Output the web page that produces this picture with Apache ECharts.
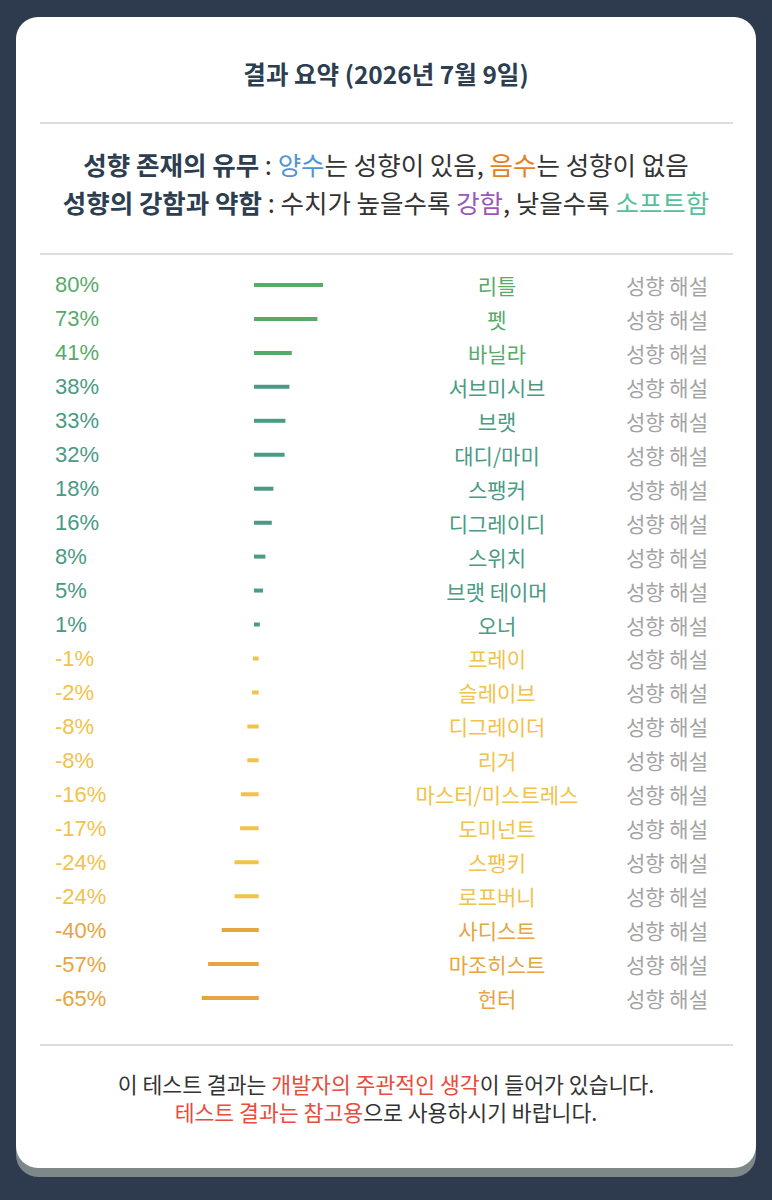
<!DOCTYPE html>
<html>
<head>
<meta charset="utf-8">
<script src="https://cdn.jsdelivr.net/npm/echarts@6/dist/echarts.min.js"></script>
<style>
html,body{margin:0;padding:0;background:#2e3a4d;}
#chart{width:772px;height:1200px;}
</style>
</head>
<body>
<div id="chart"></div>
<script>
// ---- data ----
const names = ['리틀','펫','바닐라','서브미시브','브랫','대디/마미','스팽커','디그레이디','스위치','브랫 테이머','오너','프레이','슬레이브','디그레이더','리거','마스터/미스트레스','도미넌트','스팽키','로프버니','사디스트','마조히스트','헌터'];
const values = [80,73,41,38,33,32,18,16,8,5,1,-1,-2,-8,-8,-16,-17,-24,-24,-40,-57,-65];
const pctLabels = values.map(v => v + '%');
const descLabels = names.map(() => '성향 해설');
const titleText = '결과 요약 (2026년 7월 9일)';

// ---- style ----
const KR = '"Noto Sans CJK KR","Noto Sans",sans-serif';
function colorFor(v){
  if (v >= 40) return '#58aa69';
  if (v >= 0) return '#4a9a84';
  if (v > -40) return '#f2c24a';
  return '#e6a541';
}
const chart = echarts.init(document.getElementById('chart'), null, {renderer:'svg'});
const gridLeft = 96.35, gridWidth = 320;
const HF = 25.5, FF = 21.6, HL = 30, FL = 26;
const option = {
  backgroundColor: '#2e3a4d',
  animation: false,
  graphic: [
    {type:'rect', z:-10, shape:{x:16,y:26,width:740,height:1151,r:22}, style:{fill:'#7e8889'}},
    {type:'rect', z:-9, shape:{x:16,y:17,width:740,height:1151,r:22}, style:{fill:'#ffffff'}},
    {type:'rect', z:-8, shape:{x:40,y:122,width:693,height:2}, style:{fill:'#dddddd'}},
    {type:'rect', z:-8, shape:{x:40,y:253,width:693,height:2}, style:{fill:'#dddddd'}},
    {type:'rect', z:-8, shape:{x:40,y:1044,width:693,height:2}, style:{fill:'#dddddd'}},
    {type:'text', z:3, style:{text:titleText, x:386, y:73, align:'center', verticalAlign:'middle',
      font:'bold 24.5px ' + KR, fill:'#2c3e50'}},
    {type:'text', z:3, style:{
      text:'{b|성향 존재의 유무} : {blue|양수}는 성향이 있음, {orange|음수}는 성향이 없음',
      x:386, y:163, align:'center', verticalAlign:'middle', lineHeight:HL,
      font:HF + 'px ' + KR, fill:'#333333',
      rich:{
        b:{fontWeight:'bold', fill:'#2c3e50', fontSize:HF, fontFamily:KR, lineHeight:HL},
        blue:{fill:'#4f95d6', fontSize:HF, fontFamily:KR, lineHeight:HL},
        orange:{fill:'#e67e22', fontSize:HF, fontFamily:KR, lineHeight:HL}
      }}},
    {type:'text', z:3, style:{
      text:'{b|성향의 강함과 약함} : 수치가 높을수록 {purple|강함}, 낮을수록 {teal|소프트함}',
      x:386, y:201, align:'center', verticalAlign:'middle', lineHeight:HL,
      font:HF + 'px ' + KR, fill:'#333333',
      rich:{
        b:{fontWeight:'bold', fill:'#2c3e50', fontSize:HF, fontFamily:KR, lineHeight:HL},
        purple:{fill:'#9b59b6', fontSize:HF, fontFamily:KR, lineHeight:HL},
        teal:{fill:'#55bf9c', fontSize:HF, fontFamily:KR, lineHeight:HL}
      }}},
    {type:'text', z:3, style:{
      text:'이 테스트 결과는 {r|개발자의 주관적인 생각}이 들어가 있습니다.',
      x:386, y:1083, align:'center', verticalAlign:'middle', lineHeight:FL,
      font:FF + 'px ' + KR, fill:'#333333',
      rich:{ r:{fill:'#e74c3c', fontSize:FF, fontFamily:KR, lineHeight:FL} }}},
    {type:'text', z:3, style:{
      text:'{r|테스트 결과는 참고용}으로 사용하시기 바랍니다.',
      x:386, y:1111, align:'center', verticalAlign:'middle', lineHeight:FL,
      font:FF + 'px ' + KR, fill:'#333333',
      rich:{ r:{fill:'#e74c3c', fontSize:FF, fontFamily:KR, lineHeight:FL} }}}
  ],
  grid: {left: gridLeft, width: gridWidth, top: 268, height: 747},
  xAxis: {type:'value', min:-200, max:200, show:false},
  yAxis: [
    {type:'category', inverse:true, data:pctLabels, position:'left', z:10,
      axisLine:{show:false}, axisTick:{show:false}, splitLine:{show:false},
      axisLabel:{interval:0, align:'left', margin: gridLeft - 55, fontSize:22,
        fontFamily:'"Liberation Sans", Arial, sans-serif',
        color:(val, idx) => colorFor(values[idx])}},
    {type:'category', inverse:true, data:names, position:'right', z:10,
      axisLine:{show:false}, axisTick:{show:false}, splitLine:{show:false},
      axisLabel:{interval:0, align:'center', margin: 497 - (gridLeft + gridWidth), fontSize:21,
        fontFamily:KR, color:(val, idx) => colorFor(values[idx])}},
    {type:'category', inverse:true, data:descLabels, position:'right', z:10,
      axisLine:{show:false}, axisTick:{show:false}, splitLine:{show:false},
      axisLabel:{interval:0, align:'center', margin: 667 - (gridLeft + gridWidth), fontSize:21,
        fontFamily:KR, color:'#a3a3a3'}}
  ],
  series: [{
    type:'custom',
    xAxisIndex:0, yAxisIndex:0, z:5,
    data: values.map((v, i) => [v, i]),
    renderItem: function(params, api){
      const v = api.value(0), idx = api.value(1);
      const p0 = api.coord([0, idx]);
      const p1 = api.coord([v, idx]);
      const h = 4, gap = 2.35, stub = 5;
      let x, w;
      if (v >= 0) { x = p0[0] - gap; w = (p1[0] - p0[0]) + stub; }
      else { w = (p0[0] - p1[0]) + stub; x = p0[0] + gap - w; }
      return {type:'rect', shape:{x:x, y:p0[1] - h/2, width:w, height:h}, style:{fill:colorFor(v)}};
    }
  }]
};
chart.setOption(option);
</script>
</body>
</html>
